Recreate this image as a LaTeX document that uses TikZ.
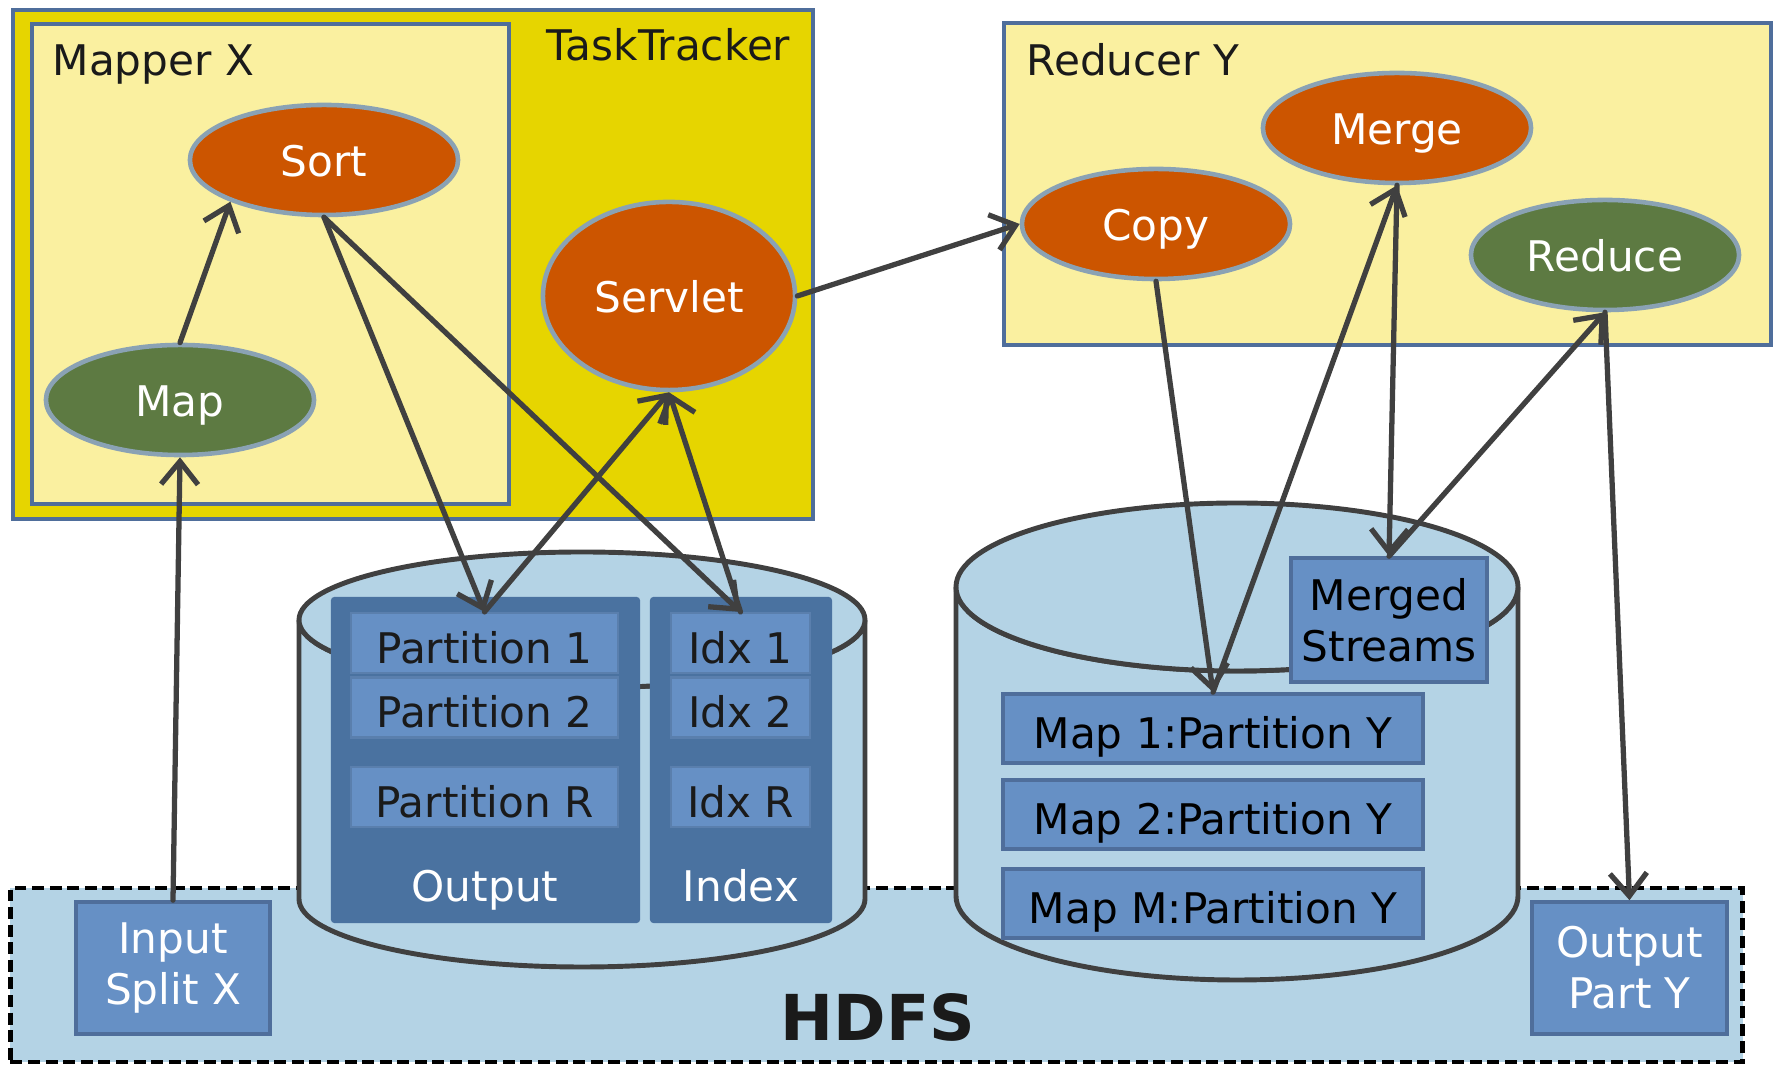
\documentclass[tikz,border=0pt]{standalone}
\usepackage{fontspec}
\setmainfont{DejaVu Sans}
\usetikzlibrary{arrows.meta,shapes.geometric}

\definecolor{trackeryellow}{RGB}{230,213,0}
\definecolor{paleyellow}{RGB}{250,240,160}
\definecolor{frameblue}{RGB}{79,110,155}
\definecolor{rimgray}{RGB}{138,162,180}
\definecolor{burnt}{RGB}{204,85,0}
\definecolor{moss}{RGB}{93,122,66}
\definecolor{diskblue}{RGB}{180,211,229}
\definecolor{darkblock}{RGB}{74,114,160}
\definecolor{blockblue}{RGB}{102,144,197}
\definecolor{wire}{RGB}{64,64,64}
\definecolor{ink}{RGB}{26,26,26}

\def\boxfont{\fontsize{12pt}{14.5pt}\selectfont}
\def\ewidth{2.68cm}
\def\eheight{1.10cm}
\tikzstyle{frame}=[draw=frameblue, line width=1pt, inner sep=0pt]
\tikzstyle{title}=[inner sep=0pt, text=ink, font=\boxfont]
\tikzstyle{phase}=[ellipse, draw=rimgray, line width=1.3pt, fill=burnt, text=white, minimum width=\ewidth, minimum height=\eheight, inner sep=0pt, text height=0.34cm, text depth=0pt, font=\boxfont]
\tikzstyle{greenphase}=[phase, fill=moss]
\tikzstyle{chunk}=[fill=blockblue, draw=blockblue!88!black, line width=0.6pt, text=ink, inner sep=0pt, text height=0.4cm, text depth=0pt, font=\boxfont]
\tikzstyle{block}=[fill=blockblue, draw=frameblue, line width=1pt, inner sep=0pt, align=center, font=\boxfont]
\tikzstyle{column}=[fill=darkblock, rounded corners=1pt, inner sep=0pt, minimum height=3.26cm]
\tikzstyle{disk}=[fill=diskblue, draw=wire, line width=1.4pt]
\tikzstyle{flow}=[draw=wire, line width=1.5pt, line cap=round, ->]

\begin{document}
\begin{tikzpicture}[x=0.01cm, y=-0.01cm, >={Straight Barb[length=6.5pt,width=10.5pt]}] % y runs downwards
  \useasboundingbox (0,0) rectangle (1775,1065);

  % hdfs
  \node [fill=diskblue, draw=black, line width=1.2pt, dash pattern=on 3.4pt off 1.6pt, inner sep=0pt, minimum width=17.31cm, minimum height=1.74cm] (hdfs) at (876.5,975) {};
  \node [font=\fontsize{18pt}{20pt}\selectfont\bfseries, text=ink, inner sep=0pt, anchor=base] (hdfs-title) at (878,1041) {HDFS};

  % map side disk
  \draw [disk] (299,620) -- (299,899) arc [start angle=180, end angle=0, x radius=283, y radius=68] -- (865,620) arc [start angle=0, end angle=180, x radius=283, y radius=68] -- cycle;
  \draw [disk] (582,620) ellipse [x radius=283, y radius=68];
  \node [column, minimum width=3.09cm] (output) at (485.5,760) {};
  \node [column, minimum width=1.82cm] (index) at (741,760) {};
  \foreach \m/\y in {1/643,2/707.5,R/797}
  {
    \node [chunk, minimum width=2.67cm, minimum height=0.6cm] (part-\m) at (484.5,\y) {Partition \m};
    \node [chunk, minimum width=1.39cm, minimum height=0.6cm] (idx-\m) at (740.5,\y) {Idx \m};
  }
  \node [title, text=white, anchor=base] (output-title) at (485,902) {Output};
  \node [title, text=white, anchor=base] (index-title) at (741,902) {Index};

  % reduce side disk
  \draw [disk] (956,587) -- (956,896) arc [start angle=180, end angle=0, x radius=281, y radius=84] -- (1518,587) arc [start angle=0, end angle=180, x radius=281, y radius=84] -- cycle;
  \draw [disk] (1237,587) ellipse [x radius=281, y radius=84];
  \node [block, minimum width=1.96cm, minimum height=1.24cm] (merged) at (1389,620) {Merged\\Streams};
  \foreach \m/\y in {1/728.5,2/814.5,M/903.5}
    \node [block, minimum width=4.2cm, minimum height=0.69cm, text height=0.4cm, text depth=0pt] (mappart-\m) at (1213,\y) {Map \m:Partition Y};

  % hdfs files
  \node [block, text=white, minimum width=1.94cm, minimum height=1.32cm] (insplit) at (173,968) {Input\\Split X};
  \node [block, text=white, minimum width=1.95cm, minimum height=1.32cm] (outpart) at (1629.5,968) {Output\\Part Y};

  % task tracker and mapper
  \node [frame, fill=trackeryellow, minimum width=8cm, minimum height=5.09cm] (tracker) at (413,264.5) {};
  \node [frame, fill=paleyellow, minimum width=4.77cm, minimum height=4.8cm] (mapper) at (270.5,264) {};
  \node [title, anchor=base east] (tracker-title) at (791,61) {TaskTracker};
  \node [title, anchor=base west] (mapper-title) at (52,76) {Mapper X};
  \node [phase] (sort) at (324,160) {Sort};
  \node [greenphase] (map) at (180,400) {Map};
  \node [phase, minimum width=2.52cm, minimum height=1.88cm] (servlet) at (669,296) {Servlet};

  % reducer
  \node [frame, fill=paleyellow, minimum width=7.67cm, minimum height=3.22cm] (reducer) at (1387.5,184) {};
  \node [title, anchor=base west] (reducer-title) at (1026,76) {Reducer Y};
  \node [phase] (copy) at (1156,224) {Copy};
  \node [phase] (merge) at (1397,128) {Merge};
  \node [greenphase] (reduce) at (1605,255) {Reduce};

  % data flow
  \foreach \a/\b in {insplit.north/map.south, map.north/sort.204, sort.south/part-1.north, sort.south/idx-1.north,
    part-1.north/servlet.south, idx-1.north/servlet.south, servlet.east/copy.west, copy.south/mappart-1.north,
    mappart-1.north/merge.south, merge.south/merged.north, merged.north/reduce.south, reduce.south/outpart.north}
    \draw [flow] (\a) -- (\b);
\end{tikzpicture}
\end{document}
